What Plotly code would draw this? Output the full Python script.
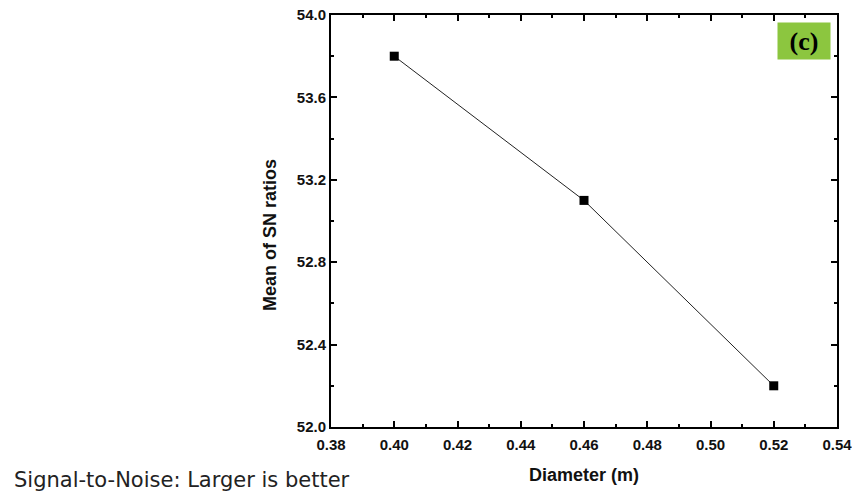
import plotly.graph_objects as go

diameter = [0.40, 0.46, 0.52]
sn_mean = [53.8, 53.1, 52.2]
x_ticks = [0.38, 0.40, 0.42, 0.44, 0.46, 0.48, 0.50, 0.52, 0.54]
y_ticks = [52.0, 52.4, 52.8, 53.2, 53.6, 54.0]

fig = go.Figure()
fig.add_trace(go.Scatter(
    x=diameter, y=sn_mean, mode="lines+markers",
    line=dict(color="#222222", width=1),
    marker=dict(symbol="square", size=9, color="black"),
    showlegend=False,
))

axis_common = dict(
    showline=True, linecolor="black", linewidth=2, mirror="ticks",
    ticks="inside", ticklen=6, tickwidth=2, tickcolor="black",
    showgrid=False, zeroline=False, automargin=False,
    ticklabeloverflow="allow",
    tickfont=dict(family="Arial", size=15, color="#111111", weight="bold"),
)

fig.update_xaxes(
    range=[0.38, 0.54], tickvals=x_ticks, ticktext=[f"{v:.2f}" for v in x_ticks],
    minor=dict(dtick=0.01, ticks="inside", ticklen=3, tickwidth=2, tickcolor="black"),
    ticklabelstandoff=3,
    **axis_common,
)
fig.update_yaxes(
    range=[52.0, 54.0], tickvals=y_ticks, ticktext=[f"{v:.1f}" for v in y_ticks],
    minor=dict(dtick=0.2, ticks="inside", ticklen=3, tickwidth=2, tickcolor="black"),
    **axis_common,
)

title_font = dict(family="Arial", size=18, color="#111111", weight="bold")
fig.add_annotation(
    xref="paper", yref="paper", x=0.5, y=-0.117, xanchor="center", yanchor="middle",
    text="Diameter (m)", showarrow=False, font=title_font,
)
fig.add_annotation(
    xref="paper", yref="paper", x=-0.1206, y=0.466, xanchor="center", yanchor="middle",
    text="Mean of SN ratios", showarrow=False, font=title_font, textangle=-90,
)

fig.add_annotation(
    xref="paper", yref="paper", x=0.988, y=0.982, xanchor="right", yanchor="top",
    text="<b>(c)</b>", showarrow=False, bgcolor="#8cc63f",
    font=dict(family="Times New Roman, serif", size=26, color="black"),
    width=48, height=32, borderpad=2,
)

fig.add_annotation(
    xref="paper", yref="paper", x=-0.6304, y=-0.128, xanchor="left", yanchor="middle",
    text="Signal-to-Noise: Larger is better", showarrow=False,
    font=dict(family="DejaVu Sans", size=21, color="#222222"),
)

fig.update_layout(
    width=852, height=492,
    margin=dict(l=331, r=15, t=15, b=65),
    paper_bgcolor="white", plot_bgcolor="white",
)

fig.write_html("out.html")
